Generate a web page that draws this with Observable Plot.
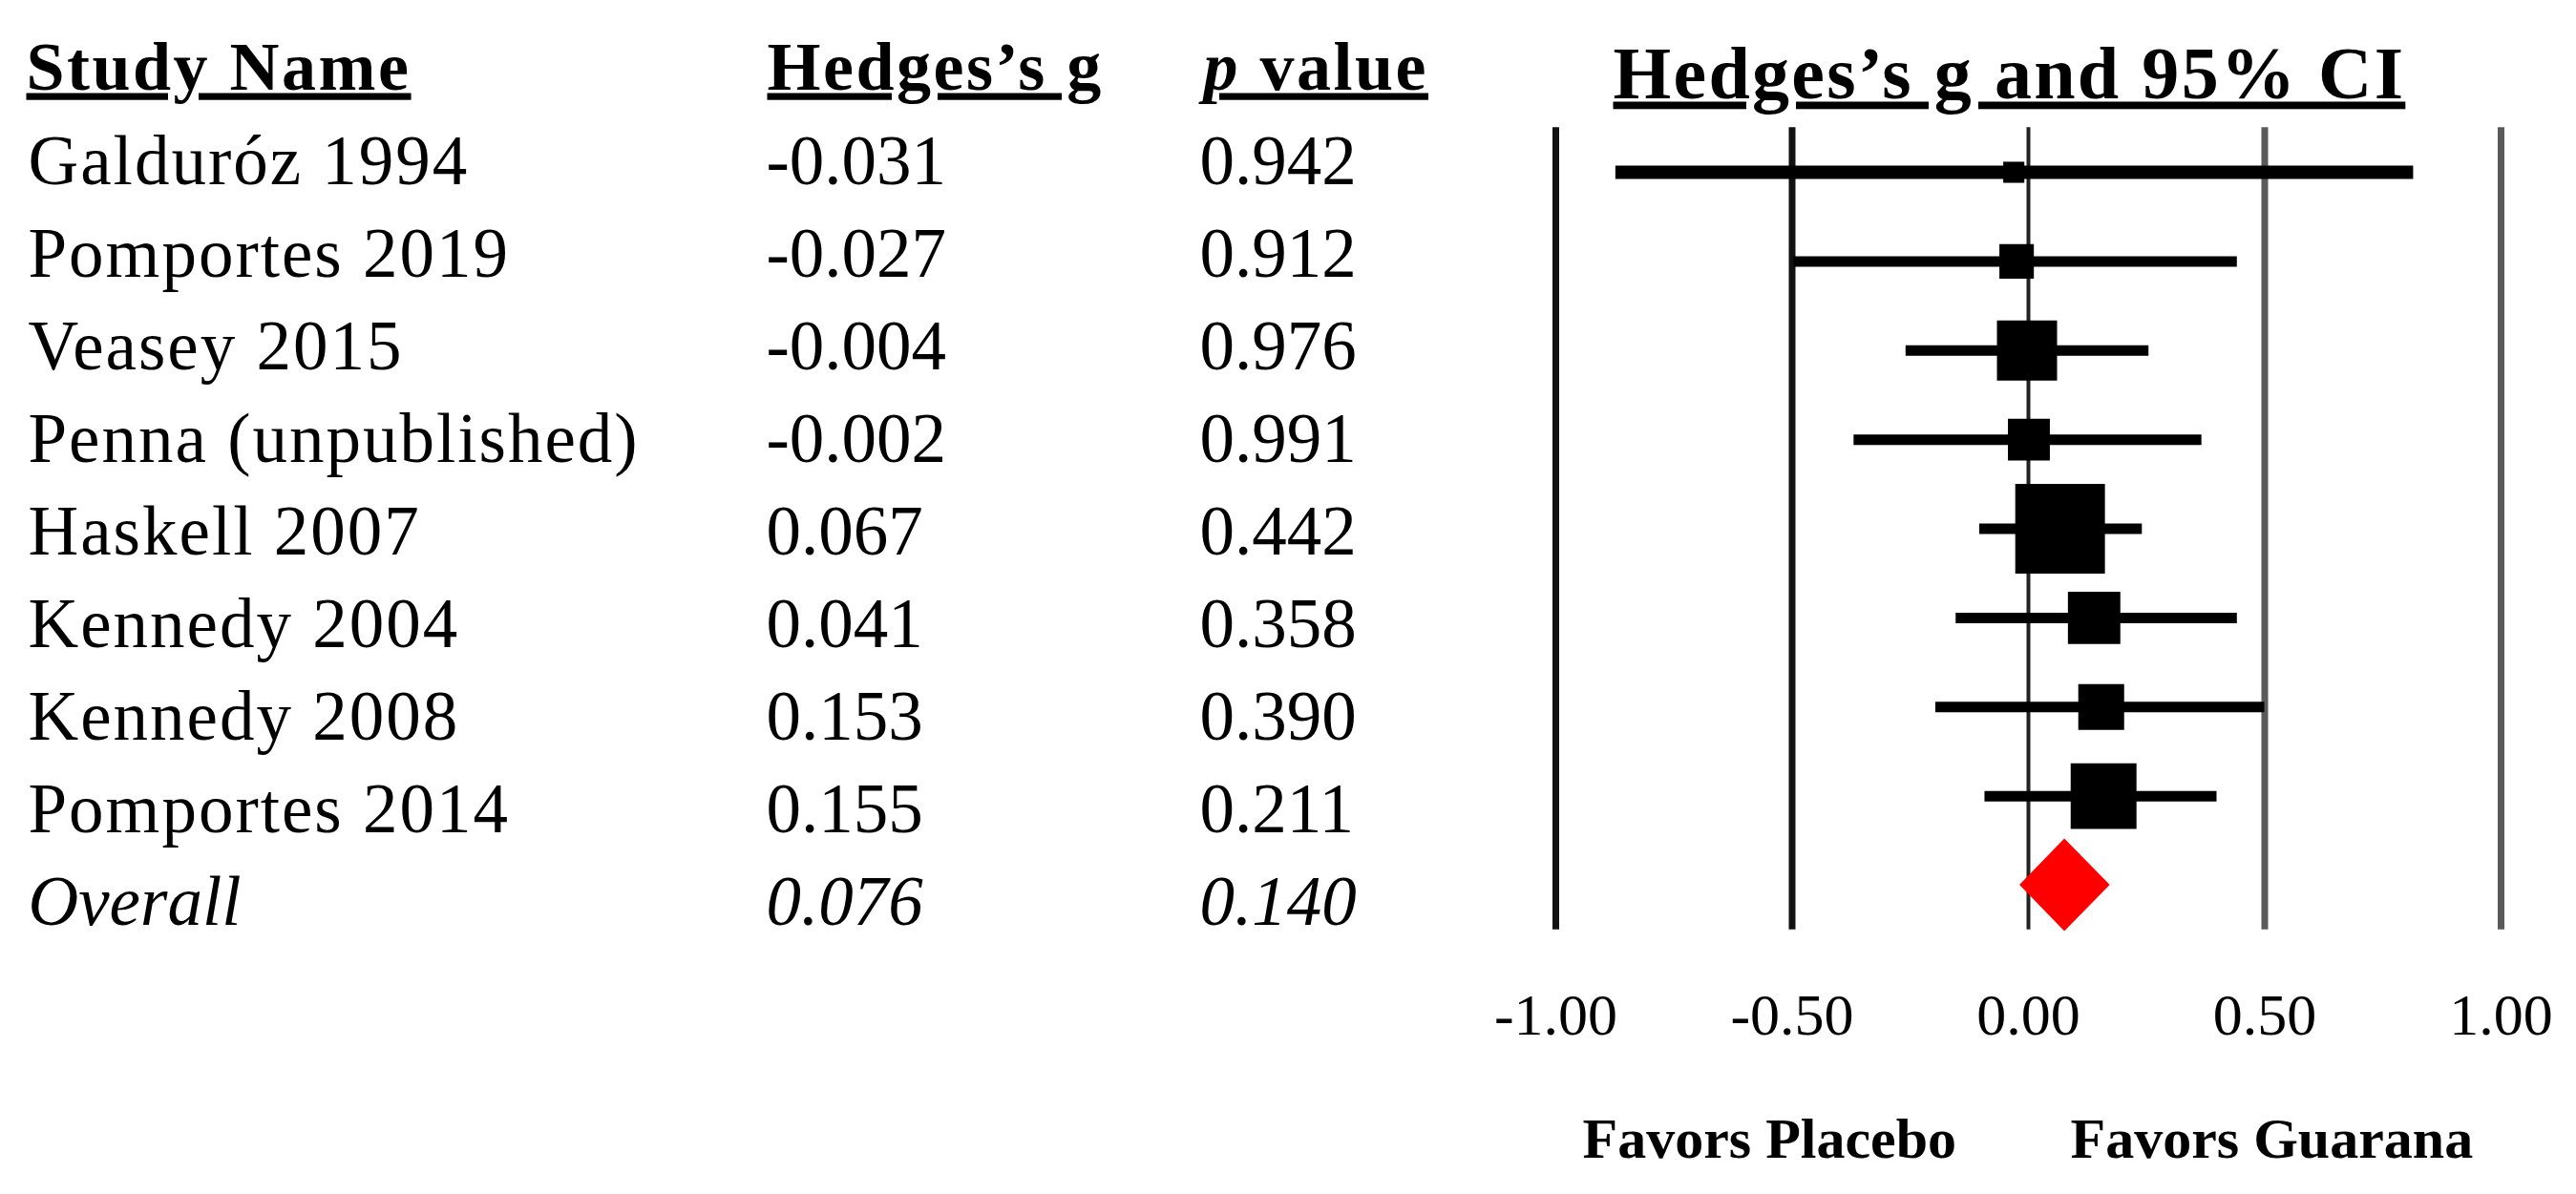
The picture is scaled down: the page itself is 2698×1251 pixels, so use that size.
<!DOCTYPE html>
<html><head><meta charset="utf-8">
<script src="https://cdn.jsdelivr.net/npm/d3@7"></script>
<script src="https://cdn.jsdelivr.net/npm/@observablehq/plot@0.6"></script>
<style>
html,body{margin:0;padding:0;background:#fff;}
#wrap{display:flex;width:2698px;height:1251px;background:#fff;}
</style></head><body><div id="wrap"></div>
<script>
// ---- data ----
const studies = ["Galduróz 1994","Pomportes 2019","Veasey 2015","Penna (unpublished)","Haskell 2007","Kennedy 2004","Kennedy 2008","Pomportes 2014"];
const hedgesG = ["-0.031","-0.027","-0.004","-0.002","0.067","0.041","0.153","0.155"];
const pValues = ["0.942","0.912","0.976","0.991","0.442","0.358","0.390","0.211"];
const effect  = [-0.031,-0.025,-0.003,0.001,0.067,0.139,0.154,0.159];
const lower   = [-0.873,-0.496,-0.259,-0.369,-0.103,-0.153,-0.196,-0.092];
const upper   = [0.815,0.442,0.255,0.367,0.241,0.442,0.500,0.399];
const weight  = [1.8,4.8,14.6,7.1,32.5,11.1,8.5,17.5]; // relative weight (%)
const overallLabel = "Overall";
const overallG = "0.076";
const overallP = "0.140";
const overallEffect = 0.077, overallLower = -0.018, overallUpper = 0.173;
const ticks = [-1, -0.5, 0, 0.5, 1];
const colHeaders = ["Study Name","Hedges’s g","p value"];
const plotTitle = "Hedges’s g and 95% CI";
const favorLeft = "Favors Placebo", favorRight = "Favors Guarana";

const FONT = "'Liberation Serif', 'Times New Roman', serif";
const rows = studies.map((s,i)=>({i, name:s, g:hedgesG[i], p:pValues[i], effect:effect[i], lo:lower[i], hi:upper[i], w:weight[i]}));
const n = studies.length;

// ---- left: table ----
const table = Plot.plot({
  width: 1560, height: 1251, margin: 0,
  style: {fontFamily: FONT, background: "white", color: "black"},
  y: {domain: [0, n], range: [192, 968], axis: null},
  marks: [
    Plot.text([colHeaders[0]], {text: d=>d, frameAnchor:"top-left", dx:27, dy:93, lineAnchor:"bottom", fontSize:72, fontWeight:"bold"}),
    Plot.text([colHeaders[1]], {text: d=>d, frameAnchor:"top-left", dx:803, dy:93, lineAnchor:"bottom", fontSize:72, fontWeight:"bold"}),
    Plot.text([colHeaders[2]], {text: d=>d, frameAnchor:"top-left", dx:1260, dy:93, lineAnchor:"bottom", fontSize:72, fontWeight:"bold"}),
    Plot.text(rows, {y:"i", text:"name", frameAnchor:"left", dx:29, lineAnchor:"bottom", fontSize:73}),
    Plot.text(rows, {y:"i", text:"g", frameAnchor:"left", dx:802, lineAnchor:"bottom", fontSize:73}),
    Plot.text(rows, {y:"i", text:"p", frameAnchor:"left", dx:1256, lineAnchor:"bottom", fontSize:73}),
    Plot.text([overallLabel], {y:()=>n, text:d=>d, frameAnchor:"left", dx:29, lineAnchor:"bottom", fontSize:73, fontStyle:"italic"}),
    Plot.text([overallG], {y:()=>n, text:d=>d, frameAnchor:"left", dx:802, lineAnchor:"bottom", fontSize:73, fontStyle:"italic"}),
    Plot.text([overallP], {y:()=>n, text:d=>d, frameAnchor:"left", dx:1256, lineAnchor:"bottom", fontSize:73, fontStyle:"italic"})
  ]
});

// ---- right: forest plot ----
const diamond = [
  {y: n - 0.52, x1: overallEffect, x2: overallEffect},
  {y: n, x1: overallLower, x2: overallUpper},
  {y: n + 0.52, x1: overallEffect, x2: overallEffect}
];
const forest = Plot.plot({
  width: 1138, height: 1251, marginTop: 0, marginLeft: 0, marginRight: 0, marginBottom: 212,
  style: {fontFamily: FONT, background: "white", color: "black"},
  x: {domain: [-1, 1], range: [69, 1059], label: null},
  y: {domain: [0, n], range: [180, 927], axis: null},
  r: {type: "sqrt", domain: [0, 35], range: [0, 55]},
  marks: [
    Plot.ruleX(ticks, {x: d=>d, y1: ()=>-0.5, y2: ()=>n + 0.5, filter: d=>d < 0, stroke:"#111", strokeWidth:7}),
    Plot.ruleX(ticks, {x: d=>d, y1: ()=>-0.5, y2: ()=>n + 0.5, filter: d=>d === 0, stroke:"#222", strokeWidth:4}),
    Plot.ruleX(ticks, {x: d=>d, y1: ()=>-0.5, y2: ()=>n + 0.5, filter: d=>d > 0, stroke:"#5a5a5a", strokeWidth:7}),
    Plot.ruleY(rows, {y:"i", x1:"lo", x2:"hi", stroke:"black", strokeWidth: d => d.i === 0 ? 14 : 11}),
    Plot.dot(rows, {x:"effect", y:"i", r:"w", symbol:"square", fill:"black", stroke:"none"}),
    Plot.areaX(diamond, {y:"y", x1:"x1", x2:"x2", fill:"#ff0000", curve:"linear"}),
    Plot.axisX(ticks, {tickFormat: d=>d.toFixed(2), tickSize:0, tickPadding:0, fontSize:62, label:null}),
    Plot.text([plotTitle], {text:d=>d, frameAnchor:"top-left", dx:129, dy:102, lineAnchor:"bottom", fontSize:78, fontWeight:"bold"}),
    Plot.text([favorLeft], {text:d=>d, frameAnchor:"top-left", dx:97, dy:1212, lineAnchor:"bottom", fontSize:60, fontWeight:"bold"}),
    Plot.text([favorRight], {text:d=>d, frameAnchor:"top-left", dx:608, dy:1212, lineAnchor:"bottom", fontSize:60, fontWeight:"bold"})
  ]
});

// ---- text styling (underlines, spacing, italic p) ----
const underlined = new Set([...colHeaders, plotTitle]);
const nameSet = new Set(studies);
for (const svg of [table, forest]) {
  svg.querySelectorAll("text").forEach(t => {
    const s = t.textContent;
    if (underlined.has(s)) {
      t.style.textDecoration = "underline";
      t.style.textDecorationThickness = "4px";
      t.style.textDecorationSkipInk = "none";
      t.style.textUnderlineOffset = s === plotTitle ? "12px" : "10px";
      t.style.letterSpacing = s === plotTitle ? "2.3px" : "2.5px";
      if (s === "p value") {
        t.textContent = "";
        const ns = "http://www.w3.org/2000/svg";
        const a = document.createElementNS(ns, "tspan");
        a.setAttribute("font-style", "italic");
        a.textContent = "p";
        const b = document.createElementNS(ns, "tspan");
        b.textContent = "\u00a0value";
        t.appendChild(a); t.appendChild(b);
      }
    } else if (nameSet.has(s)) {
      t.style.letterSpacing = "2px";
    }
  });
}
document.getElementById("wrap").append(table, forest);
</script>
</body></html>
